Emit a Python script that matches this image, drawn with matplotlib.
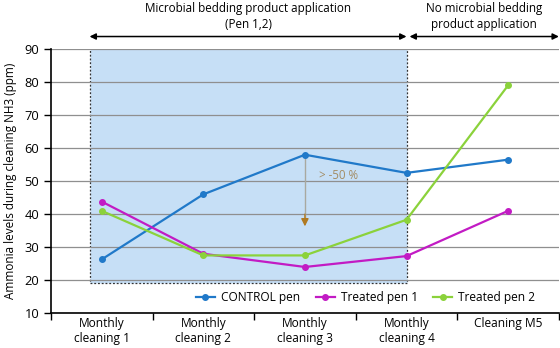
import matplotlib.pyplot as plt
import numpy as np

plt.rcParams['font.family'] = ['Open Sans', 'DejaVu Sans']

categories = ["Monthly\ncleaning 1", "Monthly\ncleaning 2", "Monthly\ncleaning 3",
              "Monthly\ncleaning 4", "Cleaning M5"]
control = [26.3, 46.0, 58.0, 52.5, 56.5]
pen1 = [43.8, 28.0, 24.0, 27.3, 41.0]
pen2 = [41.0, 27.5, 27.5, 38.3, 79.0]

x = np.arange(len(categories))

fig = plt.figure(figsize=(5.6, 3.48), dpi=100)
ax = fig.add_axes([0.091, 0.10, 0.907, 0.759])

# treatment period shading
ax.add_patch(plt.Rectangle((-0.12, 19), 3.12, 72.2, facecolor="#c6dff6",
                           edgecolor="#333333", linestyle=(0, (1.5, 1.5)),
                           linewidth=0.9, zorder=0.5))

ax.plot(x, control, color="#2079c9", marker="o", ms=4, lw=1.6, label="CONTROL pen", zorder=3)
ax.plot(x, pen1, color="#c21bc4", marker="o", ms=4, lw=1.6, label="Treated pen 1", zorder=3)
ax.plot(x, pen2, color="#8bd23b", marker="o", ms=4, lw=1.6, label="Treated pen 2", zorder=3)

# reduction arrow
ax.plot([2, 2], [58, 38], color="#a9a9a0", lw=1.0, zorder=1)
ax.annotate("", xy=(2, 36.3), xytext=(2, 40),
            arrowprops=dict(arrowstyle="-|>", color="#b07a22", lw=1.0,
                            mutation_scale=11, shrinkA=0, shrinkB=0))
ax.text(2.14, 51.7, "> -50 %", color="#a38c63", fontsize=8.3, va="center")

ax.set_xlim(-0.5, 4.5)
ax.set_ylim(10, 90)
ax.set_yticks(np.arange(10, 91, 10))
ax.grid(axis="y", color="#8f8f8f", lw=0.9)
ax.set_axisbelow(True)

ax.set_xticks(x)
ax.set_xticklabels(categories, fontsize=8.6, linespacing=1.15)
ax.tick_params(axis="x", which="major", length=0, pad=3)
ax.set_xticks(np.arange(-0.5, 4.6, 1), minor=True)
ax.tick_params(axis="x", which="minor", length=5, width=1)
ax.tick_params(axis="y", labelsize=9.3, length=5, width=1)

for s in ["top", "right"]:
    ax.spines[s].set_visible(False)
ax.spines["left"].set_linewidth(1.2)
ax.spines["bottom"].set_linewidth(1.2)

ax.set_ylabel("Ammonia levels during cleaning NH3 (ppm)", fontsize=8.5, labelpad=5)

ax.legend(loc="lower right", ncol=3, frameon=False, fontsize=8.6,
          bbox_to_anchor=(0.975, -0.005), handlelength=1.6, handletextpad=0.5,
          columnspacing=1.3)

# period arrows above the plot
ax.annotate("", xy=(-0.12, 93.8), xytext=(3.0, 93.8), annotation_clip=False,
            arrowprops=dict(arrowstyle="<|-|>", color="black", lw=1.1,
                            mutation_scale=9, shrinkA=0, shrinkB=0))
ax.annotate("", xy=(3.03, 93.8), xytext=(4.5, 93.8), annotation_clip=False,
            arrowprops=dict(arrowstyle="<|-|>", color="black", lw=1.1,
                            mutation_scale=9, shrinkA=0, shrinkB=0))
ax.text(1.44, 95.6, "Microbial bedding product application\n(Pen 1,2)",
        ha="center", va="bottom", fontsize=8.4, linespacing=1.3)
ax.text(3.76, 95.6, "No microbial bedding\nproduct application",
        ha="center", va="bottom", fontsize=8.4, linespacing=1.3)

fig.savefig("out.png", dpi=100)
